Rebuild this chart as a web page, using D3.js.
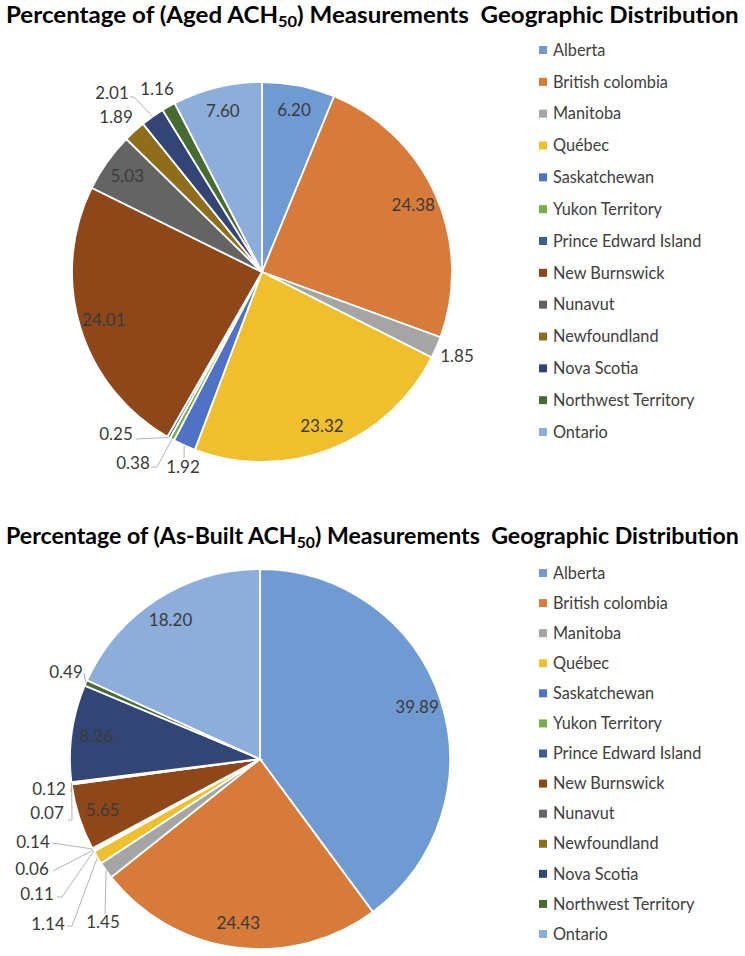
<!DOCTYPE html>
<html lang="en">
<head>
<meta charset="UTF-8">
<title>ACH50 Measurements Geographic Distribution</title>
<script src="https://d3js.org/d3.v7.min.js"></script>
<style>
    body { margin: 0; background: #fff; }
    svg text { font-family: Lato, "Open Sans", sans-serif; }
    .title { font-weight: bold; fill: #000; white-space: pre; }
    .lbl { fill: #3a3a3a; font-size: 17px; }
    .leg text { fill: #404040; font-size: 16.3px; }
</style>
</head>
<body>
<svg id="chart" width="745" height="956"></svg>
<script>
// data
const regions = ["Alberta", "British colombia", "Manitoba", "Québec", "Saskatchewan",
    "Yukon Territory", "Prince Edward Island", "New Burnswick", "Nunavut",
    "Newfoundland", "Nova Scotia", "Northwest Territory", "Ontario"];
const agedValues = [6.20, 24.38, 1.85, 23.32, 1.92, 0.38, 0.25, 24.01, 5.03, 1.89, 2.01, 1.16, 7.60];
const asBuiltValues = [39.89, 24.43, 1.45, 1.14, 0.11, 0.06, 0.14, 5.65, 0.07, 0.12, 8.26, 0.49, 18.20];
const regionColors = ["#6f9bd2", "#d77b3b", "#a5a5a5", "#f0bf2d", "#5072c4", "#74ad4b", "#3a5f90",
    "#8d4719", "#646464", "#8e6e1a", "#324575", "#486b31", "#8daedb"];

// placement of labels that sit outside the pie (relative to the pie centre)
const agedOutside = {
    "Manitoba": { x: 195, y: 84 },
    "Saskatchewan": { x: -79, y: 195, lead: [[-78, 186]] },
    "Yukon Territory": { x: -129, y: 191, lead: [[-105, 195], [-111, 195]] },
    "Prince Edward Island": { x: -146, y: 162, lead: [[-126, 167]] },
    "Newfoundland": { x: -146, y: -155 },
    "Nova Scotia": { x: -150, y: -179, lead: [[-128, -175], [-132, -175]] },
    "Northwest Territory": { x: -105, y: -183 }
};
const asBuiltOutside = {
    "Manitoba": { x: -157, y: 163, lead: [[-155, 155]] },
    "Québec": { x: -212, y: 165, lead: [[-188, 167], [-193, 167]] },
    "Saskatchewan": { x: -223, y: 135, lead: [[-198, 138], [-203, 138]] },
    "Yukon Territory": { x: -228, y: 110, lead: [[-207, 112]] },
    "Prince Edward Island": { x: -227, y: 83, lead: [[-208, 84]] },
    "Nunavut": { x: -213, y: 54, lead: [[-188, 61], [-192, 61]] },
    "Newfoundland": { x: -211, y: 30, lead: [[-189, 33]] },
    "Northwest Territory": { x: -194, y: -87, lead: [[-176, -86]] }
};

const svg = d3.select("#chart");
const color = d3.scaleOrdinal().domain(regions).range(regionColors);
const radius = 190;
const pie = d3.pie().sort(null).value(d => d.value);
const arc = d3.arc().innerRadius(0).outerRadius(radius);
const labelArc = d3.arc().innerRadius(radius * 0.87).outerRadius(radius * 0.87);

function drawTitle(y, before, after) {
    const g = svg.append("g").attr("transform", "translate(6," + y + ")");
    const t = g.append("text").attr("class", "title").style("font-size", "22px");
    t.append("tspan").text(before);
    t.append("tspan").attr("dy", 4).style("font-size", "15px").text("50");
    t.append("tspan").attr("dy", -4).text(after);
    // stretch to the width of the original title
    const w = t.node().getBBox().width;
    t.attr("transform", "scale(" + (733 / w) + ",1)");
}

function drawPie(cx, cy, values, outside) {
    const g = svg.append("g").attr("transform", "translate(" + cx + "," + cy + ")");
    const data = pie(regions.map((r, i) => ({ region: r, value: values[i] })));

    g.selectAll("path.slice")
        .data(data)
        .join("path")
        .attr("class", "slice")
        .attr("d", arc)
        .attr("fill", d => color(d.data.region))
        .attr("stroke", "#fff")
        .attr("stroke-width", 1.8);

    // labels inside the slices
    g.selectAll("text.in")
        .data(data.filter(d => !outside[d.data.region]))
        .join("text")
        .attr("class", "lbl in")
        .attr("transform", d => "translate(" + labelArc.centroid(d) + ")")
        .attr("text-anchor", "middle")
        .attr("dy", "0.35em")
        .text(d => d.data.value.toFixed(2));

    // leader lines for outside labels
    const outs = data.filter(d => outside[d.data.region]);
    g.selectAll("polyline.lead")
        .data(outs.filter(d => outside[d.data.region].lead))
        .join("polyline")
        .attr("class", "lead")
        .attr("points", d => {
            const a = (d.startAngle + d.endAngle) / 2;
            const edge = [radius * Math.sin(a), -radius * Math.cos(a)];
            return [edge].concat(outside[d.data.region].lead).join(" ");
        })
        .attr("fill", "none")
        .attr("stroke", "#b4b4b4")
        .attr("stroke-width", 1);

    g.selectAll("text.out")
        .data(outs)
        .join("text")
        .attr("class", "lbl out")
        .attr("x", d => outside[d.data.region].x)
        .attr("y", d => outside[d.data.region].y)
        .attr("text-anchor", "middle")
        .attr("dy", "0.35em")
        .text(d => d.data.value.toFixed(2));
}

function drawLegend(y0, y1) {
    const y = d3.scalePoint().domain(regions).range([y0, y1]);
    const lg = svg.append("g").attr("class", "leg");
    lg.selectAll("rect")
        .data(regions)
        .join("rect")
        .attr("x", 539)
        .attr("y", d => y(d) - 4)
        .attr("width", 8)
        .attr("height", 8)
        .attr("fill", d => color(d));
    lg.selectAll("text")
        .data(regions)
        .join("text")
        .attr("x", 553)
        .attr("y", d => y(d))
        .attr("dy", "0.35em")
        .text(d => d);
}

drawPie(262, 272, agedValues, agedOutside);
drawLegend(50, 432);
drawTitle(23, "Percentage of (Aged ACH", ") Measurements  Geographic Distribution");

drawPie(260, 759, asBuiltValues, asBuiltOutside);
drawLegend(573, 934);
drawTitle(544, "Percentage of (As-Built ACH", ") Measurements  Geographic Distribution");
</script>
</body>
</html>
